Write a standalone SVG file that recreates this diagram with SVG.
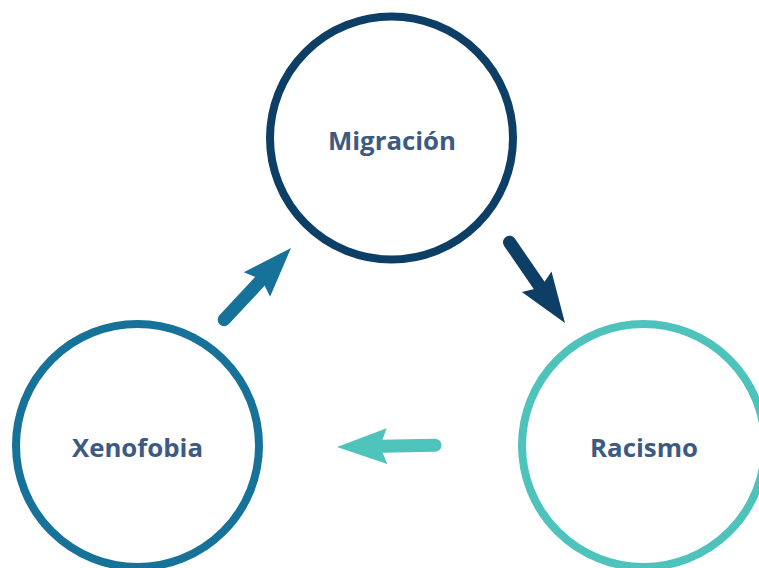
<svg xmlns="http://www.w3.org/2000/svg" width="759" height="568" viewBox="0 0 759 568">
<style>
.ring{fill:#fff;stroke-width:8}
.lbl{font-family:"Open Sans","Noto Sans","Liberation Sans",sans-serif;font-weight:700;font-size:25.8px;fill:#3d5a82;text-anchor:middle}
</style>
<defs>
<g id="arr">
<line x1="-98" y1="0" x2="-44" y2="0" stroke="currentColor" stroke-width="13" stroke-linecap="round"/>
<polygon points="0,0 -50,-18 -43,0 -50,18" fill="currentColor"/>
</g>
</defs>
<rect width="759" height="568" fill="#fff"/>
<g id="migracion">
<circle class="ring" cx="391.5" cy="138" r="121.5" stroke="#0d3f66"/>
<text class="lbl" x="392" y="150">Migración</text>
</g>
<g id="xenofobia">
<circle class="ring" cx="137.5" cy="445.5" r="121.5" stroke="#17729a"/>
<text class="lbl" x="137.5" y="457">Xenofobia</text>
</g>
<g id="racismo">
<circle class="ring" cx="643.5" cy="445.5" r="121.5" stroke="#4dc3bb"/>
<text class="lbl" x="644" y="457">Racismo</text>
</g>
<g id="connectors">
<use href="#arr" transform="translate(565,323) rotate(55.5)" style="color:#0d3f66"/>
<use href="#arr" transform="translate(337,447) rotate(179)" style="color:#4dc3bb"/>
<use href="#arr" transform="translate(291,248) rotate(-47)" style="color:#17729a"/>
</g>
</svg>
